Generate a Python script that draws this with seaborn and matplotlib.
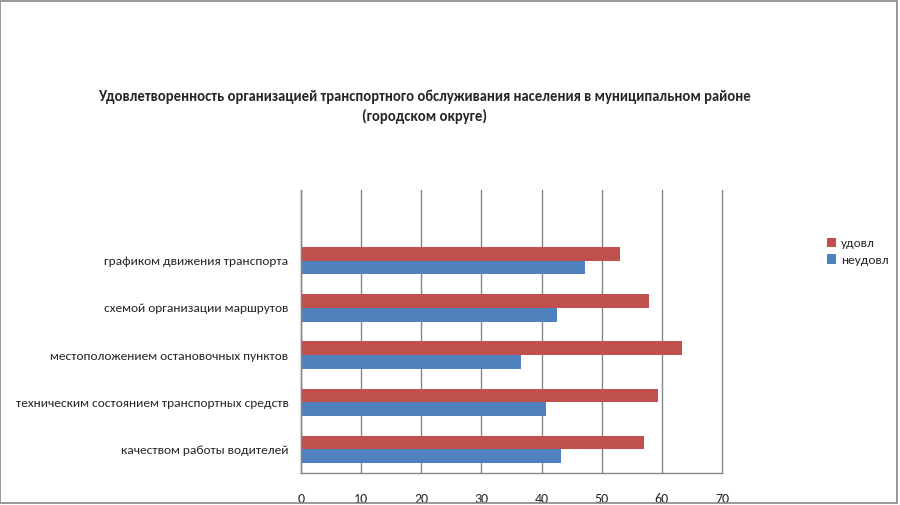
import matplotlib
matplotlib.use("Agg")
import matplotlib.pyplot as plt
import seaborn as sns
import pandas as pd
from matplotlib.patches import Rectangle

categories = [
    "графиком движения транспорта",
    "схемой организации маршрутов",
    "местоположением остановочных пунктов",
    "техническим состоянием транспортных средств",
    "качеством работы водителей",
]
satisfied = [53.1, 57.8, 63.4, 59.4, 57.0]
unsatisfied = [47.3, 42.5, 36.6, 40.8, 43.2]
series_names = ["удовл", "неудовл"]
x_ticks = [0, 10, 20, 30, 40, 50, 60, 70]
title = ("Удовлетворенность организацией транспортного обслуживания населения в муниципальном районе\n"
         "(городском округе)")

df = pd.DataFrame({
    "category": categories * 2,
    "value": satisfied + unsatisfied,
    "series": [series_names[0]] * len(categories) + [series_names[1]] * len(categories),
})

sns.set_style("white")
plt.rcParams["font.family"] = ["Carlito", "DejaVu Sans"]

red = "#C0504D"
blue = "#4F81BD"
grid_grey = "#868686"

fig = plt.figure(figsize=(9, 5.05), dpi=100)
ax = fig.add_axes([0.3344, 0.0634, 0.4678, 0.5604])

sns.barplot(
    data=df, y="category", x="value", hue="series", orient="h",
    order=categories, hue_order=series_names,
    palette=[red, blue], width=0.58, saturation=1, linewidth=0, ax=ax,
)

ax.set_xlim(0, 70)
ax.set_ylim(len(categories) - 0.5, -1.5)
ax.set_xticks(x_ticks)
ax.set_xticklabels([str(t) for t in x_ticks], fontsize=10)
ax.set_yticks(range(len(categories)))
ax.set_yticklabels(categories, fontsize=9.6)
ax.set_yticks([i - 0.5 for i in range(-1, len(categories) + 1)], minor=True)
ax.tick_params(axis="y", which="major", length=0, pad=9)
ax.tick_params(axis="y", which="minor", length=4, color=grid_grey, direction="out")
ax.tick_params(axis="x", length=5, color=grid_grey, direction="inout", pad=12)
ax.set_xlabel("")
ax.set_ylabel("")

ax.grid(axis="x", color=grid_grey, linewidth=1)
for line in ax.get_xgridlines():
    line.set_clip_on(False)
ax.set_axisbelow(True)
for side in ["top", "right"]:
    ax.spines[side].set_visible(False)
for side in ["left", "bottom"]:
    ax.spines[side].set_color(grid_grey)
    ax.spines[side].set_linewidth(1)

ax.get_legend().remove()
handles, labels = ax.get_legend_handles_labels()
fig.legend(
    handles, labels, loc="upper left", bbox_to_anchor=(0.905, 0.553),
    frameon=False, fontsize=9.6, handlelength=0.7, handleheight=0.7,
    handletextpad=0.4, labelspacing=0.4,
)

fig.text(0.472, 0.788, title, ha="center", va="center", fontsize=10.5,
         fontweight="bold", linespacing=1.45)

fig.patches.append(Rectangle((0.0005, 0.003), 0.996, 0.996, transform=fig.transFigure,
                             fill=False, edgecolor=grid_grey, linewidth=1.2))

fig.savefig("out.png", dpi=100)
